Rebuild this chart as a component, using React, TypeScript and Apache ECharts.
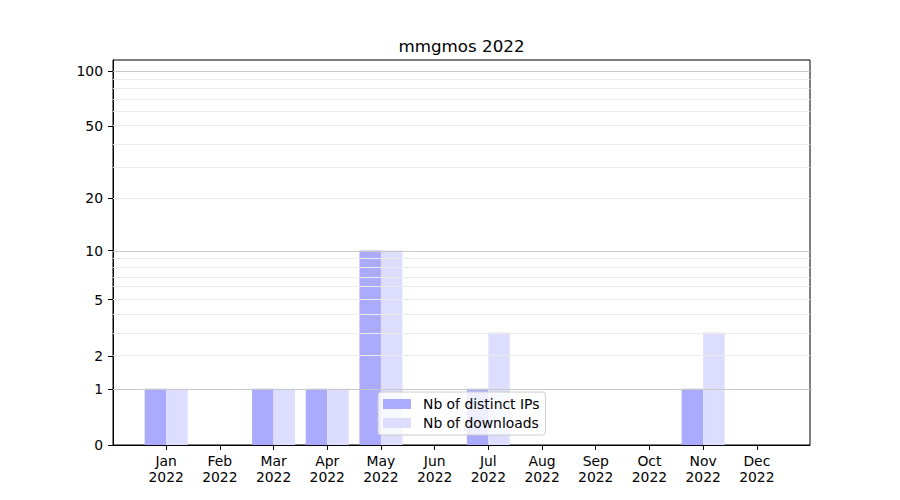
import React, { useEffect, useRef } from "react";
import * as echarts from "echarts";

const months = ["Jan", "Feb", "Mar", "Apr", "May", "Jun", "Jul", "Aug", "Sep", "Oct", "Nov", "Dec"];
const year = "2022";
const distinctIPs = [1, 0, 1, 1, 10, 0, 1, 0, 0, 0, 1, 0];
const downloads = [1, 0, 1, 1, 10, 0, 3, 0, 0, 0, 3, 0];
const yTickLabels = [0, 1, 2, 5, 10, 20, 50, 100];
const majorGrid = [1, 10, 100];
const minorGrid = [2, 3, 4, 5, 6, 7, 8, 9, 20, 30, 40, 50, 60, 70, 80, 90];
const title = "mmgmos 2022";

const f = (v: number) => Math.log10(1 + v);
const inv = (t: number) => Math.round(Math.pow(10, t) - 1);
const FONT = "DejaVu Sans";

export default function App() {
  const ref = useRef<HTMLDivElement>(null);
  useEffect(() => {
    if (!ref.current) return;
    const chart = echarts.init(ref.current, null, { renderer: "svg" });
    const monthIdx = months.map((_, i) => i);
    chart.setOption({
      animation: false,
      backgroundColor: "#ffffff",
      textStyle: { fontFamily: FONT },
      graphic: [
        {
          type: "text",
          x: 461.5,
          y: 46,
          style: {
            text: title,
            font: `16.7px "${FONT}"`,
            fill: "#000",
            align: "center",
            verticalAlign: "middle",
            textAlign: "center",
            textVerticalAlign: "middle",
          },
        },
      ],
      grid: {
        left: 113,
        right: 90,
        top: 60,
        bottom: 55,
        show: true,
        borderColor: "#000",
        borderWidth: 1,
        backgroundColor: "transparent",
      },
      legend: {
        orient: "vertical",
        left: 378,
        top: 392,
        data: ["Nb of distinct IPs", "Nb of downloads"],
        itemWidth: 28,
        itemHeight: 10,
        itemGap: 5,
        padding: [5, 6, 5, 5],
        backgroundColor: "rgba(255,255,255,0.8)",
        borderColor: "#cccccc",
        borderWidth: 1,
        borderRadius: 3,
        icon: "rect",
        textStyle: { fontFamily: FONT, fontSize: 13.9, color: "#000", padding: [0, 0, 0, 7] },
        selectedMode: false,
      },
      xAxis: {
        type: "value",
        min: -0.99,
        max: 11.99,
        axisLine: { show: true, onZero: false, lineStyle: { color: "#000", width: 1 } },
        axisTick: { show: true, length: 5, customValues: monthIdx, lineStyle: { color: "#000" } },
        axisLabel: {
          customValues: monthIdx,
          formatter: (v: number) => months[Math.round(v)] + "\n" + year,
          fontFamily: FONT,
          fontSize: 13.9,
          color: "#000",
          lineHeight: 16,
          margin: 8,
        },
        splitLine: { show: false },
      },
      yAxis: {
        type: "value",
        min: 0,
        max: 2.062,
        axisLine: { show: true, onZero: false, lineStyle: { color: "#000", width: 1 } },
        axisTick: { show: true, length: 5, customValues: yTickLabels.map(f), lineStyle: { color: "#000" } },
        axisLabel: {
          customValues: yTickLabels.map(f),
          formatter: (v: number) => String(inv(v)),
          fontFamily: FONT,
          fontSize: 13.9,
          color: "#000",
          margin: 10,
        },
        splitLine: { show: false },
      },
      series: [
        {
          name: "Nb of distinct IPs",
          type: "bar",
          data: distinctIPs.map((v, i) => [i, f(v)]),
          barWidth: 21.5,
          barGap: "0%",
          itemStyle: { color: "#aaaaff" },
          z: 2,
        },
        {
          name: "Nb of downloads",
          type: "bar",
          data: downloads.map((v, i) => [i, f(v)]),
          barWidth: 21.5,
          barGap: "0%",
          itemStyle: { color: "#ddddff" },
          z: 2,
        },
        {
          name: "grid",
          type: "line",
          data: [],
          z: 3,
          silent: true,
          markLine: {
            silent: true,
            symbol: "none",
            label: { show: false },
            animation: false,
            emphasis: { disabled: true },
            data: [
              ...minorGrid.map((v) => ({ yAxis: f(v), lineStyle: { color: "#ebebeb", width: 1, type: "solid" } })),
              ...majorGrid.map((v) => ({ yAxis: f(v), lineStyle: { color: "#c8c8c8", width: 1, type: "solid" } })),
            ],
          },
        },
      ],
    });
    return () => chart.dispose();
  }, []);
  return <div ref={ref} style={{ position: "fixed", left: 0, top: 0, width: 900, height: 500 }} />;
}
